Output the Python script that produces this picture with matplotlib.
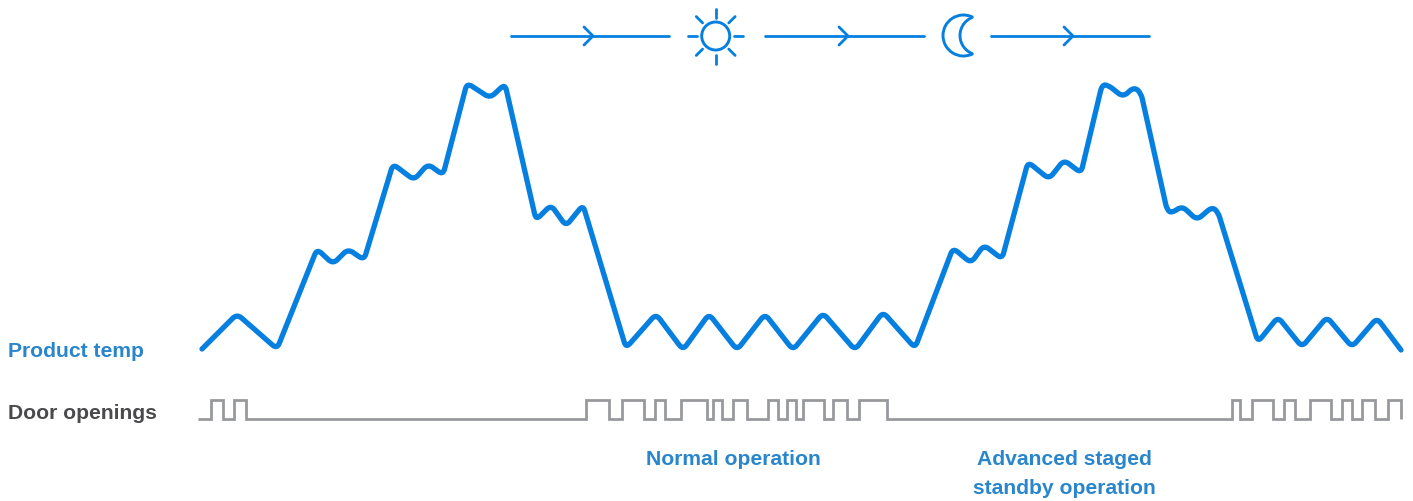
import numpy as np
import matplotlib
matplotlib.use("Agg")
import matplotlib.pyplot as plt
from matplotlib.patches import Arc, Circle, PathPatch
from matplotlib.path import Path

# Values (pixel-like units, y grows downward)
temp_x = [202, 237, 277, 317, 333, 348, 364, 393, 414, 428, 443, 467, 490, 505, 536, 551, 566, 583,
          626, 656, 683, 709, 737, 765, 793, 823, 855, 883, 915,
          953, 971, 984, 1002, 1028, 1049, 1064, 1081, 1102, 1108, 1123, 1134, 1141, 1167, 1172, 1182, 1197, 1212, 1218,
          1258, 1278, 1302, 1327, 1352, 1377, 1401]
temp_y = [349, 314, 349, 249, 264, 249, 260, 164, 180, 164, 175, 83, 98, 84, 220, 205, 226, 205,
          348, 314, 350, 314, 350, 314, 350, 313, 350, 312, 348,
          248, 263, 245, 259, 162, 179, 160, 173, 85, 85, 97, 87, 93, 210, 213, 206, 220, 207, 212,
          342, 317, 347, 317, 347, 318, 350]

door_edges = [211, 223, 234, 246, 586, 609, 622, 644, 655, 665, 681, 707, 713, 722, 733, 747,
              768, 778, 787, 796, 803, 824, 833, 847, 859, 887,
              1232, 1240, 1252, 1273, 1284, 1295, 1310, 1331, 1342, 1352, 1362, 1375, 1388, 1401]
door_start = 198
door_low = 419
door_high = 400

arrow_spans = [(511, 669, 593), (765, 924, 848), (991, 1149, 1073)]
ray_angles = np.arange(0, 360, 45)

BLUE = "#0680e0"
TEXT_BLUE = "#2a86cc"
GREY = "#98999d"
DARK = "#4a4a4c"
FONT = "Liberation Sans"


def rounded_path(xs, ys, r=6.0):
    # polyline with small curved corners
    pts = np.column_stack([xs, ys]).astype(float)
    verts = [pts[0]]
    codes = [Path.MOVETO]
    for i in range(1, len(pts) - 1):
        p = pts[i]
        a = pts[i - 1] - p
        b = pts[i + 1] - p
        la = np.hypot(*a)
        lb = np.hypot(*b)
        ra = min(r, la / 2)
        rb = min(r, lb / 2)
        verts += [p + a / la * ra, p, p + b / lb * rb]
        codes += [Path.LINETO, Path.CURVE3, Path.CURVE3]
    verts.append(pts[-1])
    codes.append(Path.LINETO)
    return Path(verts, codes)


fig = plt.figure(figsize=(14.13, 5.01), dpi=100)
ax = fig.add_axes([0, 0, 1, 1])
ax.set_xlim(0, 1413)
ax.set_ylim(501, 0)
ax.axis("off")

# product temperature
ax.add_patch(PathPatch(rounded_path(temp_x, temp_y), fill=False, edgecolor=BLUE, lw=3.8,
                       capstyle="round", joinstyle="round"))

# door openings, square wave
door_x = [door_start]
door_y = [door_low]
level = door_low
for e in door_edges:
    door_x += [e, e]
    level2 = door_high if level == door_low else door_low
    door_y += [level, level2]
    level = level2
ax.plot(door_x, door_y, color=GREY, lw=2.0, solid_joinstyle="miter", solid_capstyle="butt")

# arrows along the top
for x0, x1, tip in arrow_spans:
    ax.plot([x0, x1], [36, 36], color=BLUE, lw=2.0, solid_capstyle="round")
    ax.plot([tip - 9, tip, tip - 9], [27, 36, 45], color=BLUE, lw=2.0,
            solid_capstyle="round", solid_joinstyle="miter")

# sun
sun_x, sun_y = 715.7, 36
ax.add_patch(Circle((sun_x, sun_y), 14, fill=False, edgecolor=BLUE, lw=2.1))
for ang in ray_angles:
    c, s = np.cos(np.radians(ang)), np.sin(np.radians(ang))
    ax.plot([sun_x + 18.5 * c, sun_x + 27.5 * c], [sun_y + 18.5 * s, sun_y + 27.5 * s],
            color=BLUE, lw=2.0, solid_capstyle="round")

# moon
ax.add_patch(Arc((963.5, 35.5), 41, 41, theta1=64.7, theta2=295.3, edgecolor=BLUE, lw=2.1, capstyle="round"))
ax.add_patch(Arc((979.5, 35.5), 39, 39, theta1=112.6, theta2=247.4, edgecolor=BLUE, lw=2.1, capstyle="round"))

# labels
ax.text(8, 357, "Product temp", color=TEXT_BLUE, fontsize=15.2, fontweight="bold",
        family=FONT, ha="left", va="baseline")
ax.text(8, 419, "Door openings", color=DARK, fontsize=15.2, fontweight="bold",
        family=FONT, ha="left", va="baseline")
ax.text(733.7, 465, "Normal operation", color=TEXT_BLUE, fontsize=15.2, fontweight="bold",
        family=FONT, ha="center", va="baseline")
ax.text(1064.5, 465, "Advanced staged", color=TEXT_BLUE, fontsize=15.2, fontweight="bold",
        family=FONT, ha="center", va="baseline")
ax.text(1064.5, 494, "standby operation", color=TEXT_BLUE, fontsize=15.2, fontweight="bold",
        family=FONT, ha="center", va="baseline")

fig.savefig("out.png", dpi=100)
